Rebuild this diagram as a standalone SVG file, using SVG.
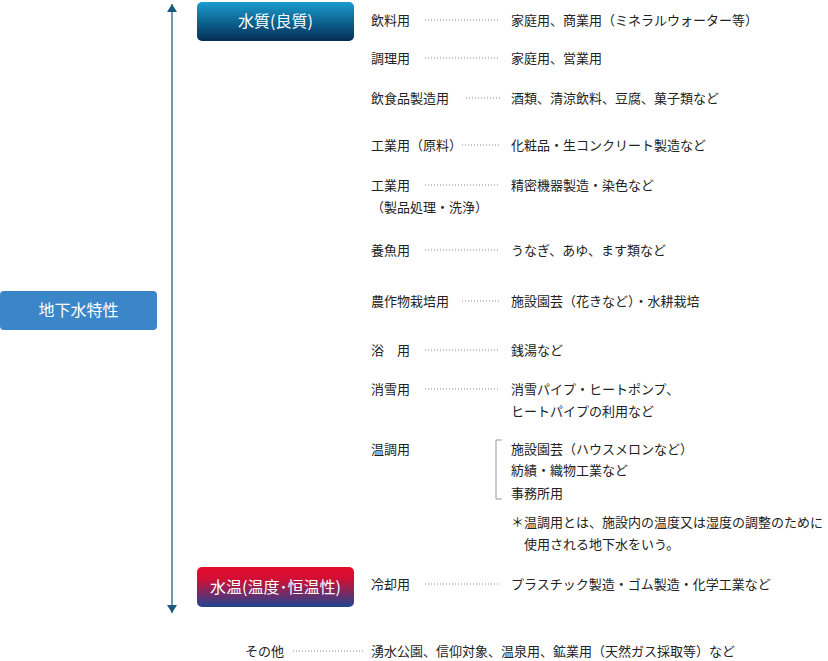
<svg xmlns="http://www.w3.org/2000/svg" width="828" height="661" viewBox="0 0 828 661">
<defs>
<linearGradient id="gb" x1="0" y1="0" x2="0" y2="1"><stop offset="0" stop-color="#1a9ccf"/><stop offset="1" stop-color="#032d55"/></linearGradient>
<linearGradient id="gr" x1="0" y1="0" x2="0" y2="1"><stop offset="0" stop-color="#e50a2c"/><stop offset="0.3" stop-color="#d10f35"/><stop offset="1" stop-color="#1f4592"/></linearGradient>
<marker id="au" markerWidth="10" markerHeight="8" refX="5" refY="0" orient="0" markerUnits="userSpaceOnUse"><path d="M0,8 L5,0 L10,8 Z" fill="#1b5a7c"/></marker>
<marker id="ad" markerWidth="10" markerHeight="8" refX="5" refY="8" orient="0" markerUnits="userSpaceOnUse"><path d="M0,0 L5,8 L10,0 Z" fill="#1b5a7c"/></marker>
</defs>
<style>
text{font-family:"Noto Sans CJK JP","Noto Sans CJK SC",sans-serif;font-size:13px;fill:#222}
.w{fill:#fff;font-size:16px}
.d{stroke:#888;stroke-width:1;stroke-dasharray:1 2;fill:none}
</style>
<rect width="828" height="661" fill="#fff"/>
<g id="connectors">
<line x1="172" y1="4" x2="172" y2="613" stroke="#6f98b3" stroke-width="2" marker-start="url(#au)" marker-end="url(#ad)"/>
<line class="d" x1="425" y1="20" x2="500" y2="20"/>
<line class="d" x1="425" y1="58" x2="500" y2="58"/>
<line class="d" x1="466" y1="98" x2="500" y2="98"/>
<line class="d" x1="462" y1="145" x2="500" y2="145"/>
<line class="d" x1="425" y1="185" x2="500" y2="185"/>
<line class="d" x1="425" y1="250" x2="500" y2="250"/>
<line class="d" x1="462" y1="301" x2="500" y2="301"/>
<line class="d" x1="425" y1="350" x2="500" y2="350"/>
<line class="d" x1="425" y1="389" x2="500" y2="389"/>
<line class="d" x1="425" y1="584" x2="500" y2="584"/>
<line class="d" x1="293" y1="651" x2="365" y2="651"/>
<path d="M502,440 H496 V499 H502" fill="none" stroke="#999" stroke-width="1"/>
</g>
<g id="root"><rect x="0" y="291" width="157" height="39" rx="4" fill="#3a86c8"/><text class="w" x="78.5" y="316" text-anchor="middle">地下水特性</text></g>
<g id="quality"><rect x="197" y="2" width="157" height="39" rx="5" fill="url(#gb)"/><text class="w" x="275.5" y="27" text-anchor="middle">水質(良質)</text></g>
<g id="temp"><rect x="197" y="567" width="157" height="40" rx="5" fill="url(#gr)"/><text class="w" x="275.5" y="593" text-anchor="middle">水温(温度･恒温性)</text></g>
<g id="items">
<text x="371" y="25">飲料用</text><text x="511" y="25">家庭用、商業用（ミネラルウォーター等）</text>
<text x="371" y="63">調理用</text><text x="511" y="63">家庭用、営業用</text>
<text x="371" y="103">飲食品製造用</text><text x="511" y="103">酒類、清涼飲料、豆腐、菓子類など</text>
<text x="371" y="150">工業用（原料）</text><text x="511" y="150">化粧品・生コンクリート製造など</text>
<text x="371" y="190">工業用</text><text x="371" y="212">（製品処理・洗浄）</text><text x="511" y="190">精密機器製造・染色など</text>
<text x="371" y="255">養魚用</text><text x="511" y="255">うなぎ、あゆ、ます類など</text>
<text x="371" y="306">農作物栽培用</text><text x="511" y="306">施設園芸（花きなど）・水耕栽培</text>
<text x="371" y="355">浴　用</text><text x="511" y="355">銭湯など</text>
<text x="371" y="394">消雪用</text><text x="511" y="394">消雪パイプ・ヒートポンプ、</text><text x="511" y="416">ヒートパイプの利用など</text>
<text x="371" y="454">温調用</text><text x="511" y="454">施設園芸（ハウスメロンなど）</text><text x="511" y="475">紡績・織物工業など</text><text x="511" y="498">事務所用</text>
<text x="511" y="527">＊温調用とは、施設内の温度又は湿度の調整のために</text><text x="524" y="549">使用される地下水をいう。</text>
<text x="371" y="589">冷却用</text><text x="511" y="589">プラスチック製造・ゴム製造・化学工業など</text>
<text x="245" y="656">その他</text><text x="371" y="656">湧水公園、信仰対象、温泉用、鉱業用（天然ガス採取等）など</text>
</g>
</svg>
